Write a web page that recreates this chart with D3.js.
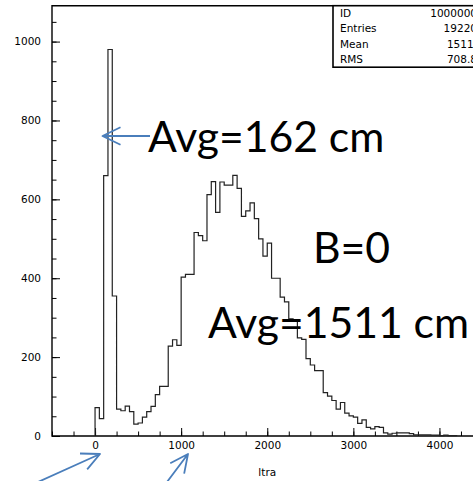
<!DOCTYPE html>
<html><head><meta charset="utf-8">
<script src="https://cdn.jsdelivr.net/npm/d3@7"></script>
<style>body{margin:0;background:#fff;overflow:hidden} svg{display:block}</style>
</head><body>
<script>
// ---- data ----
const binStart = 0;
const binWidth = 50;
const counts = [72,44,660,980,355,68,64,76,62,30,
  33,48,62,75,105,126,126,228,244,230,
  403,410,410,516,508,495,612,645,567,644,
  636,636,661,628,557,571,591,551,500,456,
  489,400,400,352,340,297,292,249,245,196,
  180,166,166,110,101,90,68,85,58,51,
  48,32,41,22,18,24,22,8,5,7,
  8,8,8,6,3,3,3,3,2,2,
  1,2,1,1];
const xTickValues = [0,1000,2000,3000,4000];
const yTickValues = [0,200,400,600,800,1000];
const xDomain = [-500,4500];
const yDomain = [0,1091];
const xTitle = "ltra";
const statsLabels = ["ID","Entries","Mean","RMS"];
const statsValues = ["1000000","19220","1511.","708.8"];
const noteTexts = ["Avg=162 cm","B=0","Avg=1511 cm"];

// ---- layout ----
const W = 473, H = 481;
const L = 52, R = 482.5, T = 5.7, B = 436;
const svg = d3.select("body").append("svg").attr("width",W).attr("height",H);
const x = d3.scaleLinear().domain(xDomain).range([L,R]);
const y = d3.scaleLinear().domain(yDomain).range([B,T]);

// minor ticks
const xMinor = d3.range(xDomain[0], xDomain[1]+1, 250);
const yMinor = d3.range(0, 1051, 50);
svg.append("g").attr("transform",`translate(0,${B})`)
  .call(d3.axisBottom(x).tickValues(xMinor).tickSize(-4.5).tickSizeOuter(0).tickFormat(""))
  .call(g=>g.select(".domain").remove())
  .selectAll("line").attr("stroke","#000");
svg.append("g").attr("transform",`translate(${L},0)`)
  .call(d3.axisLeft(y).tickValues(yMinor).tickSize(-4.5).tickSizeOuter(0).tickFormat(""))
  .call(g=>g.select(".domain").remove())
  .selectAll("line").attr("stroke","#000");
// major ticks
const gx = svg.append("g").attr("transform",`translate(0,${B})`)
  .call(d3.axisBottom(x).tickValues(xTickValues).tickSize(-8).tickSizeOuter(0).tickPadding(6).tickFormat(d3.format("d")));
gx.select(".domain").remove();
gx.selectAll("line").attr("stroke","#000");
gx.selectAll("text").attr("font-family","DejaVu Sans").attr("font-size",10.5).attr("fill","#000");
const gy = svg.append("g").attr("transform",`translate(${L},0)`)
  .call(d3.axisLeft(y).tickValues(yTickValues).tickSize(-8).tickSizeOuter(0).tickPadding(11).tickFormat(d3.format("d")));
gy.select(".domain").remove();
gy.selectAll("line").attr("stroke","#000");
gy.selectAll("text").attr("font-family","DejaVu Sans").attr("font-size",10.5).attr("fill","#000");

// frame
svg.append("path").attr("d",`M${R},${T}H${L}V${B}H${R}`)
  .attr("fill","none").attr("stroke","#000").attr("stroke-width",1.4);

// histogram outline
const pts = [[binStart,0]].concat(counts.map((c,i)=>[binStart+i*binWidth,c]))
  .concat([[binStart+counts.length*binWidth,0]]);
const line = d3.line().x(d=>x(d[0])).y(d=>y(d[1])).curve(d3.curveStepAfter);
svg.append("path").attr("d",line(pts)).attr("fill","none")
  .attr("stroke","#222").attr("stroke-width",1.2);

// axis title
svg.append("text").attr("x",(L+R)/2).attr("y",476).attr("text-anchor","middle")
  .attr("font-family","DejaVu Sans").attr("font-size",10.5).text(xTitle);

// stats box
const bx = 333, by = T, bh = 61.5;
svg.append("rect").attr("x",bx).attr("y",by).attr("width",160).attr("height",bh)
  .attr("fill","#fff").attr("stroke","#000").attr("stroke-width",1.6);
const rowY = [17,32.5,48,63.5].map(v=>v-0.5);
statsLabels.forEach((s,i)=>{
  svg.append("text").attr("x",340).attr("y",rowY[i]).attr("font-family","DejaVu Sans")
    .attr("font-size",10.5).text(s);
  svg.append("text").attr("x",477).attr("y",rowY[i]).attr("text-anchor","end")
    .attr("font-family","DejaVu Sans").attr("font-size",10.5).text(statsValues[i]);
});

// annotations
const noteFont = "Lato";
const notePos = [[148,152],[313,263],[208,338]];
noteTexts.forEach((t,i)=>{
  svg.append("text").attr("x",notePos[i][0]).attr("y",notePos[i][1])
    .attr("font-family",noteFont).attr("font-size",42.7).attr("fill","#000").text(t);
});

// arrows
const blue = "#4A7EBB";
function arrow(x1,y1,x2,y2,len){
  const a = Math.atan2(y2-y1,x2-x1);
  const w1 = [x2-len*Math.cos(a-0.45), y2-len*Math.sin(a-0.45)];
  const w2 = [x2-len*Math.cos(a+0.45), y2-len*Math.sin(a+0.45)];
  svg.append("path").attr("d",`M${x1},${y1}L${x2},${y2}M${w1[0]},${w1[1]}L${x2},${y2}L${w2[0]},${w2[1]}`)
    .attr("fill","none").attr("stroke",blue).attr("stroke-width",1.8).attr("stroke-linejoin","round");
}
arrow(150,136,102.5,136,20);
arrow(38,482,100,454,20);
arrow(167,482,188,454,20);
</script>
</body></html>
